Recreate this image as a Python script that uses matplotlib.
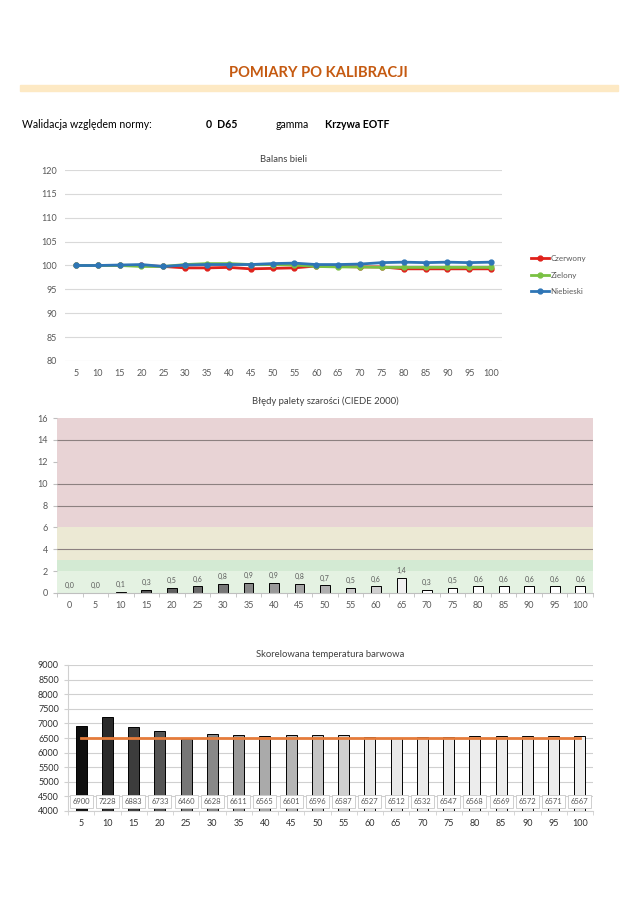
"""
plot.py - raport z kalibracji: balans bieli, bledy szarosci, temperatura barwowa
"""
import numpy as np
import matplotlib
matplotlib.use("Agg")
import matplotlib.pyplot as plt
from matplotlib.patches import Rectangle

plt.rcParams['font.family'] = ['Lato', 'DejaVu Sans']

# =========================================================================
# DATA
# =========================================================================

levels_wb = [5, 10, 15, 20, 25, 30, 35, 40, 45, 50, 55, 60, 65, 70, 75, 80, 85, 90, 95, 100]
red_wb = [100, 100, 100, 100.0, 99.8, 99.5, 99.5, 99.6, 99.3, 99.4, 99.5, 99.9,
          99.8, 99.7, 99.7, 99.3, 99.3, 99.3, 99.3, 99.3]
green_wb = [100, 100, 100, 99.8, 99.8, 100.2, 100.4, 100.4, 100.2, 100.2, 100.1, 99.8,
            99.7, 99.7, 99.6, 99.6, 99.6, 99.6, 99.6, 99.6]
blue_wb = [100, 100, 100.1, 100.2, 99.8, 100.1, 100.2, 100.2, 100.2, 100.4, 100.5, 100.2,
           100.2, 100.3, 100.6, 100.7, 100.6, 100.7, 100.6, 100.7]

levels_de = [0, 5, 10, 15, 20, 25, 30, 35, 40, 45, 50, 55, 60, 65, 70, 75, 80, 85, 90, 95, 100]
delta_e = [0.0, 0.0, 0.1, 0.3, 0.5, 0.6, 0.8, 0.9, 0.9, 0.8, 0.7, 0.5, 0.6, 1.4,
           0.3, 0.5, 0.6, 0.6, 0.6, 0.6, 0.6]
de_colors = ['#202020', '#2a2a2a', '#3a3a3a', '#555555', '#606060', '#6a6a6a', '#777777',
             '#888888', '#999999', '#a5a5a5', '#b0b0b0', '#c8c8c8', '#d0d0d0', '#f0f0f0',
             '#ffffff', '#ffffff', '#ffffff', '#ffffff', '#ffffff', '#ffffff', '#ffffff']

levels_cct = levels_wb
cct = [6900, 7228, 6883, 6733, 6460, 6628, 6611, 6565, 6601, 6596, 6587, 6527,
       6512, 6532, 6547, 6568, 6569, 6572, 6571, 6567]
cct_colors = ['#101010', '#2a2a2a', '#3c3c3c', '#555555', '#777777', '#888888', '#999999',
              '#aaaaaa', '#b5b5b5', '#c5c5c5', '#cfcfcf', '#e8e8e8', '#e8e8e8', '#eaeaea',
              '#ececec', '#ececec', '#ececec', '#ededed', '#ededed', '#eeeeee']
CCT_TARGET = 6500

TXT = '#404040'
TICK = '#595959'

# =========================================================================
# FIGURE
# =========================================================================

fig = plt.figure(figsize=(6.36, 9.0), dpi=100)

fig.text(0.5, 1 - 73 / 900, "POMIARY PO KALIBRACJI", ha='center', va='center',
         fontsize=10.6, fontweight='bold', color='#C55A11')
fig.patches.append(Rectangle((20 / 636, 1 - 91 / 900), 598 / 636, 6 / 900,
                             transform=fig.transFigure, color='#FDE9C4', zorder=0))
y_hdr = 1 - 125 / 900
fig.text(22 / 636, y_hdr, "Walidacja względem normy:", fontsize=7.6, va='center', color='black')
fig.text(206 / 636, y_hdr, "0  D65", fontsize=7.6, va='center', fontweight='bold')
fig.text(276 / 636, y_hdr, "gamma", fontsize=7.6, va='center')
fig.text(325 / 636, y_hdr, "Krzywa EOTF", fontsize=7.6, va='center', fontweight='bold')

# --- Balans bieli --------------------------------------------------------
ax1 = fig.add_axes([65 / 636, 1 - 361 / 900, 437 / 636, 191 / 900])
x = np.arange(len(levels_wb))
for vals, col, lab in [(red_wb, '#E0211B', 'Czerwony'),
                       (green_wb, '#7AC143', 'Zielony'),
                       (blue_wb, '#2E75B6', 'Niebieski')]:
    ax1.plot(x, vals, color=col, lw=2, marker='o', ms=3.5, label=lab)
ax1.set_xlim(-0.5, len(levels_wb) - 0.5)
ax1.set_ylim(80, 120)
ax1.set_yticks(np.arange(80, 121, 5))
ax1.set_xticks(x, [str(v) for v in levels_wb])
ax1.grid(axis='y', color='#d9d9d9', lw=0.8)
ax1.set_axisbelow(True)
for s in ax1.spines.values():
    s.set_visible(False)
ax1.tick_params(length=0, labelsize=6.5, labelcolor=TICK, pad=6)
ax1.set_title("Balans bieli", fontsize=6.8, color=TXT, pad=6)
ax1.legend(loc='center left', bbox_to_anchor=(1.05, 0.45), frameon=False,
           fontsize=5.8, labelcolor=TICK, handlelength=2.2, labelspacing=1.2,
           handletextpad=0.2)

# --- Bledy palety szarosci -----------------------------------------------
ax2 = fig.add_axes([57 / 636, 1 - 593 / 900, 536 / 636, 175 / 900])
xd = np.arange(len(levels_de))
ax2.set_xlim(-0.5, len(levels_de) - 0.5)
ax2.set_ylim(0, 16)
ax2.axhspan(6, 16, color='#E8D3D5', lw=0, zorder=0)
ax2.axhspan(3, 6, color='#ECE9D4', lw=0, zorder=0)
ax2.axhspan(2, 3, color='#D3EAD3', lw=0, zorder=0)
ax2.axhspan(0, 2, color='#E4F2E2', lw=0, zorder=0)
for g in [4, 8, 10, 14]:
    ax2.axhline(g, color='#8c8080', lw=0.8, zorder=1)
ax2.bar(xd, delta_e, width=0.38, color=de_colors, edgecolor='black', lw=0.7, zorder=2)
for xi, v in zip(xd, delta_e):
    ax2.text(xi, v + 0.35, f"{v:.1f}".replace('.', ','), ha='center', va='bottom',
             fontsize=5, color=TICK, zorder=3)
ax2.set_yticks(np.arange(0, 17, 2))
ax2.set_xticks(xd, [str(v) for v in levels_de])
ax2.set_xticks(np.arange(-0.5, len(levels_de), 1), minor=True)
for s in ['top', 'right', 'left']:
    ax2.spines[s].set_visible(False)
ax2.spines['bottom'].set_color('#bfbfbf')
ax2.tick_params(axis='x', which='major', length=0, labelsize=6.5, labelcolor=TICK, pad=6)
ax2.tick_params(axis='x', which='minor', length=3, color='#bfbfbf')
ax2.tick_params(axis='y', length=3, color='#bfbfbf', labelsize=6.5, labelcolor=TICK)
ax2.set_title("Błędy palety szarości (CIEDE 2000)", fontsize=6.8, color=TXT, pad=10)

# --- Skorelowana temperatura barwowa -------------------------------------
ax3 = fig.add_axes([68 / 636, 1 - 811 / 900, 525 / 636, 146 / 900])
xc = np.arange(len(levels_cct))
ax3.set_xlim(-0.5, len(levels_cct) - 0.5)
ax3.set_ylim(4000, 9000)
ax3.bar(xc, np.array(cct) - 4000, bottom=4000, width=0.42, color=cct_colors,
        edgecolor='black', lw=0.7, zorder=2)
ax3.plot(xc, [CCT_TARGET] * len(xc), color='#E57B3A', lw=2, zorder=3)
for xi, v in zip(xc, cct):
    ax3.text(xi, 4330, str(v), ha='center', va='center', fontsize=5.5, color=TICK, zorder=4,
             bbox=dict(boxstyle='square,pad=0.35', fc='white', ec='#c8c8c8', lw=0.6))
ax3.set_yticks(np.arange(4000, 9001, 500))
ax3.set_xticks(xc, [str(v) for v in levels_cct])
ax3.set_xticks(np.arange(-0.5, len(levels_cct), 1), minor=True)
ax3.grid(axis='y', color='#d0d0d0', lw=0.8)
ax3.set_axisbelow(True)
for s in ['top', 'right']:
    ax3.spines[s].set_visible(False)
ax3.spines['left'].set_color('#d0d0d0')
ax3.spines['bottom'].set_color('#d0d0d0')
ax3.tick_params(axis='x', which='major', length=0, labelsize=6.5, labelcolor='#303030', pad=6)
ax3.tick_params(axis='x', which='minor', length=3, color='#d0d0d0')
ax3.tick_params(axis='y', length=3, color='#d0d0d0', labelsize=6.5, labelcolor='#303030')
ax3.set_title("Skorelowana temperatura barwowa", fontsize=6.8, color=TXT, pad=6)

fig.savefig("out.png", dpi=100)
